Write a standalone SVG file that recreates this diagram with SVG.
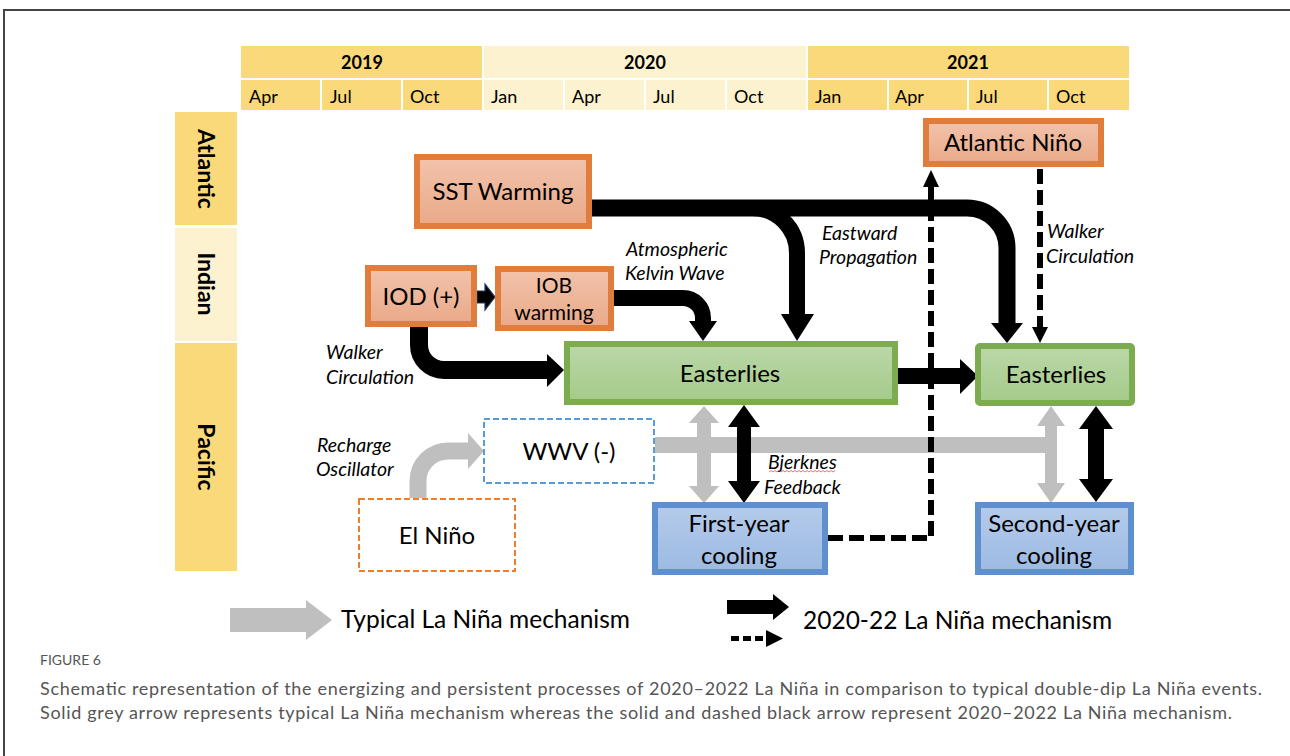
<svg xmlns="http://www.w3.org/2000/svg" width="1290" height="756" viewBox="0 0 1290 756">
<defs>
<linearGradient id="gO" x1="0" y1="0" x2="0" y2="1"><stop offset="0" stop-color="#F2C3AB"/><stop offset="1" stop-color="#E9A988"/></linearGradient>
<linearGradient id="gG" x1="0" y1="0" x2="0" y2="1"><stop offset="0" stop-color="#BBD8A8"/><stop offset="1" stop-color="#A4CA8A"/></linearGradient>
<linearGradient id="gB" x1="0" y1="0" x2="0" y2="1"><stop offset="0" stop-color="#B5CBEB"/><stop offset="1" stop-color="#9DBAE2"/></linearGradient>
<style>
text{font-family:Lato,"Open Sans","Liberation Sans",sans-serif;fill:#000}
.hd{fill:#F9D97A}.hl{fill:#FDF2CF}
.yr{font-size:18px;font-weight:bold;text-anchor:middle}
.mo{font-size:18px}
.side{font-size:23px;font-weight:bold;text-anchor:middle}
.or{fill:url(#gO);stroke:#E07D3C;stroke-width:6}
.gr{fill:url(#gG);stroke:#7DAB50;stroke-width:6}
.bl{fill:url(#gB);stroke:#5E8FCF;stroke-width:6}
.nt{font-size:24px;text-anchor:middle}
.ns{font-size:21px;text-anchor:middle}
.lb{font-size:19.5px;font-style:italic}
.blk{fill:none;stroke:#000}
.gry{fill:none;stroke:#BFBFBF}
.dsh{fill:none;stroke:#000;stroke-width:6;stroke-dasharray:15 6}
.cap{font-family:Lato,"Open Sans","Liberation Sans",sans-serif;fill:#555}
</style>
</defs>
<rect width="1290" height="756" fill="#fff"/>
<g id="frame" fill="none" stroke="#444" stroke-width="2"><path d="M4 756 V10 H1290"/></g>

<g id="timeline">
<rect class="hd" x="241" y="46" width="241" height="32"/>
<rect class="hl" x="484" y="46" width="322" height="32"/>
<rect class="hd" x="808" y="46" width="321" height="32"/>
<text class="yr" x="362" y="69">2019</text>
<text class="yr" x="645" y="69">2020</text>
<text class="yr" x="968" y="69">2021</text>
<rect class="hd" x="241" y="80" width="79" height="30"/>
<rect class="hd" x="322" y="80" width="79" height="30"/>
<rect class="hd" x="403" y="80" width="79" height="30"/>
<rect class="hl" x="484" y="80" width="79" height="30"/>
<rect class="hl" x="565" y="80" width="79" height="30"/>
<rect class="hl" x="646" y="80" width="79" height="30"/>
<rect class="hl" x="727" y="80" width="79" height="30"/>
<rect class="hd" x="808" y="80" width="79" height="30"/>
<rect class="hd" x="889" y="80" width="78" height="30"/>
<rect class="hd" x="969" y="80" width="78" height="30"/>
<rect class="hd" x="1049" y="80" width="80" height="30"/>
<text class="mo" x="249" y="103">Apr</text>
<text class="mo" x="330" y="103">Jul</text>
<text class="mo" x="410" y="103">Oct</text>
<text class="mo" x="491" y="103">Jan</text>
<text class="mo" x="572" y="103">Apr</text>
<text class="mo" x="653" y="103">Jul</text>
<text class="mo" x="734" y="103">Oct</text>
<text class="mo" x="815" y="103">Jan</text>
<text class="mo" x="895" y="103">Apr</text>
<text class="mo" x="976" y="103">Jul</text>
<text class="mo" x="1056" y="103">Oct</text>
</g>

<g id="basins">
<rect class="hd" x="175" y="112" width="62" height="113"/>
<rect class="hl" x="175" y="228" width="62" height="113"/>
<rect class="hd" x="175" y="343" width="62" height="228"/>
<text class="side" transform="translate(198 169) rotate(90)">Atlantic</text>
<text class="side" transform="translate(198 284) rotate(90)">Indian</text>
<text class="side" transform="translate(198 457) rotate(90)">Pacific</text>
</g>

<g id="connectors">
<path class="gry" stroke-width="16" d="M655 445 H1051"/>
<path class="gry" stroke-width="17" d="M418 498 V481 A30 30 0 0 1 448 451 H469"/>
<polygon fill="#BFBFBF" points="468,433 468,469 484,451"/>
<polygon fill="#BFBFBF" points="704,406 719,423 711,423 711,486 719,486 704,503 689,486 697,486 697,423 689,423"/>
<polygon fill="#BFBFBF" points="1051,406 1065,426 1057,426 1057,483 1065,483 1051,503 1037,483 1045,483 1045,426 1037,426"/>
<polygon fill="#000" points="744,405 760,427 751,427 751,481 760,481 744,503 728,481 737,481 737,427 728,427"/>
<polygon fill="#000" points="1096,406 1113,429 1104,429 1104,479 1113,479 1096,502 1079,479 1088,479 1088,429 1079,429"/>
<path class="blk" stroke-width="18" d="M419 326 V345 A25 25 0 0 0 444 370 H549"/>
<polygon fill="#000" points="547,354 547,387 564,370"/>
<polygon fill="#000" stroke="#1F3864" stroke-width="1.2" points="477,291 485,291 485,284 495,297 485,310 485,303 477,303"/>
<path class="blk" stroke-width="16" d="M613 298 H683 A20 20 0 0 1 703 318 V322"/>
<polygon fill="#000" points="689,321 717,321 703,341"/>
<path class="blk" stroke-width="17" d="M591 208 H967 A40 40 0 0 1 1007 248 V324"/>
<polygon fill="#000" points="991,323 1023,323 1007,343"/>
<path class="blk" stroke-width="16" d="M752 208 A45 45 0 0 1 797 253 V315"/>
<polygon fill="#000" points="781,314 814,314 797,341"/>
<path class="blk" stroke-width="16" d="M897 376 H961"/>
<polygon fill="#000" points="960,359 960,394 978,376"/>
<path class="dsh" d="M828 538 H931 V186"/>
<polygon fill="#000" points="923,187 939,187 931,170"/>
<path class="dsh" d="M1040 169 V328"/>
<polygon fill="#000" points="1032,327 1048,327 1040,343"/>
</g>

<g id="labels">
<text class="lb" x="626" y="256">Atmospheric</text>
<text class="lb" x="625" y="280">Kelvin Wave</text>
<text class="lb" x="822" y="240">Eastward</text>
<text class="lb" x="819" y="264">Propagation</text>
<text class="lb" x="1047" y="238">Walker</text>
<text class="lb" x="1046" y="263">Circulation</text>
<text class="lb" x="326" y="359">Walker</text>
<text class="lb" x="326" y="384">Circulation</text>
<text class="lb" x="317" y="452">Recharge</text>
<text class="lb" x="316" y="476">Oscillator</text>
<text class="lb" x="768" y="469">Bjerknes</text>
<path d="M769 472 l2 -1.5 l2 1.5 l2 -1.5 l2 1.5 l2 -1.5 l2 1.5 l2 -1.5 l2 1.5 l2 -1.5 l2 1.5 l2 -1.5 l2 1.5 l2 -1.5 l2 1.5 l2 -1.5 l2 1.5 l2 -1.5 l2 1.5 l2 -1.5 l2 1.5 l2 -1.5 l2 1.5 l2 -1.5 l2 1.5 l2 -1.5 l2 1.5 l2 -1.5 l2 1.5 l2 -1.5 l2 1.5 l2 -1.5 l2 1.5 l2 -1.5" fill="none" stroke="#E05050" stroke-width="0.8"/>
<text class="lb" x="764" y="494">Feedback</text>
</g>

<g id="sst"><rect class="or" x="417" y="157" width="172" height="69"/><text class="nt" x="503" y="200">SST Warming</text></g>
<g id="iod"><rect class="or" x="368" y="268" width="106" height="56"/><text class="nt" x="421" y="305">IOD (+)</text></g>
<g id="iob"><rect class="or" x="498" y="269" width="113" height="59"/><text class="ns" x="554" y="293">IOB</text><text class="ns" x="554" y="320">warming</text></g>
<g id="atlnino"><rect class="or" x="926" y="121" width="175" height="43"/><text class="nt" x="1013" y="151">Atlantic Niño</text></g>
<g id="east1"><rect class="gr" x="567" y="344" width="328" height="58"/><text class="nt" x="730" y="382">Easterlies</text></g>
<g id="east2"><rect class="gr" x="978" y="346" width="154" height="57" rx="2"/><text class="nt" x="1056" y="383">Easterlies</text></g>
<g id="cool1"><rect class="bl" x="655" y="505" width="170" height="67"/><text class="nt" x="739" y="532">First-year</text><text class="nt" x="739" y="564">cooling</text></g>
<g id="cool2"><rect class="bl" x="978" y="505" width="153" height="67"/><text class="nt" x="1054" y="532">Second-year</text><text class="nt" x="1054" y="564">cooling</text></g>
<g id="wwv"><rect x="484" y="419" width="170" height="64" fill="#fff" stroke="#5B9BD5" stroke-width="2" stroke-dasharray="6 3"/><text class="nt" x="569" y="460">WWV (-)</text></g>
<g id="elnino"><rect x="359" y="499" width="156" height="72" fill="#fff" stroke="#ED7D31" stroke-width="2" stroke-dasharray="6 3"/><text class="nt" x="437" y="544">El Niño</text></g>

<g id="legend">
<polygon fill="#BFBFBF" points="230,608 306,608 306,600 332,620 306,640 306,632 230,632"/>
<text x="341" y="628" font-size="24.5">Typical La Niña mechanism</text>
<polygon fill="#000" points="727,600 773,600 773,594 789,607 773,620 773,614 727,614"/>
<path d="M731 638.5 H768" fill="none" stroke="#000" stroke-width="5" stroke-dasharray="8 4"/>
<polygon fill="#000" points="766,630 783,638.5 766,647"/>
<text x="803" y="629" font-size="24.5">2020-22 La Niña mechanism</text>
</g>

<g id="caption">
<text class="cap" x="40" y="665" font-size="14">FIGURE 6</text>
<text class="cap" x="40" y="695" font-size="18" textLength="1222">Schematic representation of the energizing and persistent processes of 2020–2022 La Niña in comparison to typical double-dip La Niña events.</text>
<text class="cap" x="40" y="719" font-size="18" textLength="1192">Solid grey arrow represents typical La Niña mechanism whereas the solid and dashed black arrow represent 2020–2022 La Niña mechanism.</text>
</g>
</svg>
